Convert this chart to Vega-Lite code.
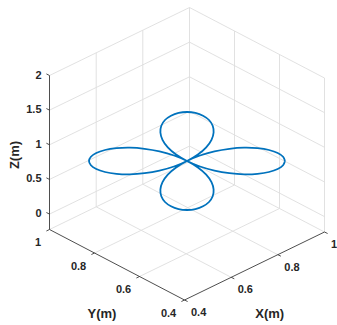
{
  "$schema": "https://vega.github.io/schema/vega-lite/v6.json",
  "width": 337,
  "height": 325,
  "autosize": {"type": "none"},
  "padding": 0,
  "background": "white",
  "config": {"view": {"stroke": null}},
  "datasets": {
    "grid": [
      {"h": 231.2, "v": 277.3, "h2": 96.2, "v2": 206.8},
      {"h": 277.8, "v": 254.7, "h2": 142.8, "v2": 184.2},
      {"h": 324.5, "v": 232, "h2": 189.5, "v2": 161.5},
      {"h": 139.5, "v": 276.5, "h2": 279.5, "v2": 208.5},
      {"h": 94.5, "v": 253, "h2": 234.5, "v2": 185},
      {"h": 49.5, "v": 229.5, "h2": 189.5, "v2": 161.5},
      {"h": 96.2, "v": 206.8, "h2": 96.2, "v2": 52.8},
      {"h": 142.8, "v": 184.2, "h2": 142.8, "v2": 30.2},
      {"h": 189.5, "v": 161.5, "h2": 189.5, "v2": 7.5},
      {"h": 49.5, "v": 214.1, "h2": 189.5, "v2": 146.1},
      {"h": 49.5, "v": 179.45, "h2": 189.5, "v2": 111.45},
      {"h": 49.5, "v": 144.8, "h2": 189.5, "v2": 76.8},
      {"h": 49.5, "v": 110.15, "h2": 189.5, "v2": 42.15},
      {"h": 49.5, "v": 75.5, "h2": 189.5, "v2": 7.5},
      {"h": 234.5, "v": 185, "h2": 234.5, "v2": 31},
      {"h": 279.5, "v": 208.5, "h2": 279.5, "v2": 54.5},
      {"h": 324.5, "v": 232, "h2": 324.5, "v2": 78},
      {"h": 189.5, "v": 146.1, "h2": 324.5, "v2": 216.6},
      {"h": 189.5, "v": 111.45, "h2": 324.5, "v2": 181.95},
      {"h": 189.5, "v": 76.8, "h2": 324.5, "v2": 147.3},
      {"h": 189.5, "v": 42.15, "h2": 324.5, "v2": 112.65},
      {"h": 189.5, "v": 7.5, "h2": 324.5, "v2": 78}
    ],
    "axes": [
      {"h": 49.5, "v": 229.5, "h2": 49.5, "v2": 75.5},
      {"h": 49.5, "v": 229.5, "h2": 184.5, "v2": 300},
      {"h": 184.5, "v": 300, "h2": 324.5, "v2": 232}
    ],
    "ticks": [
      {"h": 49.5, "v": 214.1, "h2": 46.4, "v2": 212.5},
      {"h": 49.5, "v": 179.45, "h2": 46.4, "v2": 177.85},
      {"h": 49.5, "v": 144.8, "h2": 46.4, "v2": 143.2},
      {"h": 49.5, "v": 110.15, "h2": 46.4, "v2": 108.55},
      {"h": 49.5, "v": 75.5, "h2": 46.4, "v2": 73.9},
      {"h": 49.5, "v": 229.5, "h2": 46.4, "v2": 231},
      {"h": 94.5, "v": 253, "h2": 91.4, "v2": 254.5},
      {"h": 139.5, "v": 276.5, "h2": 136.4, "v2": 278},
      {"h": 184.5, "v": 300, "h2": 181.4, "v2": 301.5},
      {"h": 184.5, "v": 300, "h2": 187.6, "v2": 301.5},
      {"h": 231.2, "v": 277.3, "h2": 234.3, "v2": 278.8},
      {"h": 277.8, "v": 254.7, "h2": 280.9, "v2": 256.2},
      {"h": 324.5, "v": 232, "h2": 327.6, "v2": 233.5}
    ],
    "zlab": [
      {"h": 49.5, "v": 214.1, "text": "0"},
      {"h": 49.5, "v": 179.45, "text": "0.5"},
      {"h": 49.5, "v": 144.8, "text": "1"},
      {"h": 49.5, "v": 110.15, "text": "1.5"},
      {"h": 49.5, "v": 75.5, "text": "2"}
    ],
    "ylab": [
      {"h": 49.5, "v": 229.5, "text": "1"},
      {"h": 94.5, "v": 253, "text": "0.8"},
      {"h": 139.5, "v": 276.5, "text": "0.6"},
      {"h": 184.5, "v": 300, "text": "0.4"}
    ],
    "xlab": [
      {"h": 184.5, "v": 300, "text": "0.4"},
      {"h": 231.2, "v": 277.3, "text": "0.6"},
      {"h": 277.8, "v": 254.7, "text": "0.8"},
      {"h": 324.5, "v": 232, "text": "1"}
    ],
    "titles": [
      {"h": 102, "v": 314.3, "text": "Y(m)"},
      {"h": 269.7, "v": 314, "text": "X(m)"}
    ],
    "ztitle": [
      {"h": 14.5, "v": 155, "text": "Z(m)"}
    ],
    "curve": [
      {"i": 0, "h": 285, "v": 161}, {"i": 1, "h": 283.1, "v": 156.8}, {"i": 2, "h": 277.7, "v": 153.0},
      {"i": 3, "h": 269.0, "v": 150.0}, {"i": 4, "h": 257.5, "v": 148.2}, {"i": 5, "h": 244.1, "v": 147.7},
      {"i": 6, "h": 229.4, "v": 148.8}, {"i": 7, "h": 214.5, "v": 151.4}, {"i": 8, "h": 200.0, "v": 155.5},
      {"i": 9, "h": 187, "v": 161}, {"i": 10, "h": 176.1, "v": 167.5}, {"i": 11, "h": 167.8, "v": 174.7},
      {"i": 12, "h": 162.5, "v": 182.2}, {"i": 13, "h": 160.4, "v": 189.5}, {"i": 14, "h": 161.3, "v": 196.3},
      {"i": 15, "h": 165.0, "v": 202.0}, {"i": 16, "h": 171.0, "v": 206.3}, {"i": 17, "h": 178.6, "v": 209.1},
      {"i": 18, "h": 187, "v": 210}, {"i": 19, "h": 195.4, "v": 209.1}, {"i": 20, "h": 203.0, "v": 206.3},
      {"i": 21, "h": 209.0, "v": 202.0}, {"i": 22, "h": 212.7, "v": 196.3}, {"i": 23, "h": 213.6, "v": 189.5},
      {"i": 24, "h": 211.5, "v": 182.2}, {"i": 25, "h": 206.2, "v": 174.7}, {"i": 26, "h": 197.9, "v": 167.5},
      {"i": 27, "h": 187, "v": 161}, {"i": 28, "h": 174.0, "v": 155.5}, {"i": 29, "h": 159.5, "v": 151.4},
      {"i": 30, "h": 144.6, "v": 148.8}, {"i": 31, "h": 129.9, "v": 147.7}, {"i": 32, "h": 116.5, "v": 148.2},
      {"i": 33, "h": 105.0, "v": 150.0}, {"i": 34, "h": 96.3, "v": 153.0}, {"i": 35, "h": 90.9, "v": 156.8},
      {"i": 36, "h": 89, "v": 161}, {"i": 37, "h": 90.9, "v": 165.2}, {"i": 38, "h": 96.3, "v": 169.0},
      {"i": 39, "h": 105.0, "v": 172.0}, {"i": 40, "h": 116.5, "v": 173.8}, {"i": 41, "h": 129.9, "v": 174.3},
      {"i": 42, "h": 144.6, "v": 173.2}, {"i": 43, "h": 159.5, "v": 170.6}, {"i": 44, "h": 174.0, "v": 166.5},
      {"i": 45, "h": 187, "v": 161}, {"i": 46, "h": 197.9, "v": 154.5}, {"i": 47, "h": 206.2, "v": 147.3},
      {"i": 48, "h": 211.5, "v": 139.8}, {"i": 49, "h": 213.6, "v": 132.5}, {"i": 50, "h": 212.7, "v": 125.7},
      {"i": 51, "h": 209.0, "v": 120.0}, {"i": 52, "h": 203.0, "v": 115.7}, {"i": 53, "h": 195.4, "v": 112.9},
      {"i": 54, "h": 187, "v": 112}, {"i": 55, "h": 178.6, "v": 112.9}, {"i": 56, "h": 171.0, "v": 115.7},
      {"i": 57, "h": 165.0, "v": 120.0}, {"i": 58, "h": 161.3, "v": 125.7}, {"i": 59, "h": 160.4, "v": 132.5},
      {"i": 60, "h": 162.5, "v": 139.8}, {"i": 61, "h": 167.8, "v": 147.3}, {"i": 62, "h": 176.1, "v": 154.5},
      {"i": 63, "h": 187, "v": 161}, {"i": 64, "h": 200.0, "v": 166.5}, {"i": 65, "h": 214.5, "v": 170.6},
      {"i": 66, "h": 229.4, "v": 173.2}, {"i": 67, "h": 244.1, "v": 174.3}, {"i": 68, "h": 257.5, "v": 173.8},
      {"i": 69, "h": 269.0, "v": 172.0}, {"i": 70, "h": 277.7, "v": 169.0}, {"i": 71, "h": 283.1, "v": 165.2},
      {"i": 72, "h": 285, "v": 161}
    ]
  },
  "encoding": {
    "x": {"field": "h", "type": "quantitative", "axis": null, "scale": {"domain": [0, 337], "nice": false, "zero": false}},
    "y": {"field": "v", "type": "quantitative", "axis": null, "scale": {"domain": [0, 325], "reverse": true, "nice": false, "zero": false}}
  },
  "layer": [
    {
      "data": {"name": "grid"},
      "mark": {"type": "rule", "stroke": "#dedede", "strokeWidth": 0.9},
      "encoding": {"x2": {"field": "h2"}, "y2": {"field": "v2"}}
    },
    {
      "data": {"name": "axes"},
      "mark": {"type": "rule", "stroke": "#3a3a3a", "strokeWidth": 0.9},
      "encoding": {"x2": {"field": "h2"}, "y2": {"field": "v2"}}
    },
    {
      "data": {"name": "ticks"},
      "mark": {"type": "rule", "stroke": "#3a3a3a", "strokeWidth": 0.9},
      "encoding": {"x2": {"field": "h2"}, "y2": {"field": "v2"}}
    },
    {
      "data": {"name": "curve"},
      "mark": {"type": "line", "stroke": "#0072BD", "strokeWidth": 1.8, "interpolate": "catmull-rom"},
      "encoding": {"order": {"field": "i", "type": "quantitative"}}
    },
    {
      "data": {"name": "zlab"},
      "mark": {"type": "text", "align": "right", "baseline": "middle", "dx": -8, "font": "Liberation Sans", "fontSize": 11, "fontWeight": "bold", "fill": "#262626"},
      "encoding": {"text": {"field": "text"}}
    },
    {
      "data": {"name": "ylab"},
      "mark": {"type": "text", "align": "right", "baseline": "middle", "dx": -8.3, "dy": 13.7, "font": "Liberation Sans", "fontSize": 11, "fontWeight": "bold", "fill": "#262626"},
      "encoding": {"text": {"field": "text"}}
    },
    {
      "data": {"name": "xlab"},
      "mark": {"type": "text", "align": "left", "baseline": "middle", "dx": 6.5, "dy": 13, "font": "Liberation Sans", "fontSize": 11, "fontWeight": "bold", "fill": "#262626"},
      "encoding": {"text": {"field": "text"}}
    },
    {
      "data": {"name": "titles"},
      "mark": {"type": "text", "align": "center", "baseline": "middle", "font": "Liberation Sans", "fontSize": 13, "fontWeight": "bold", "fill": "#262626"},
      "encoding": {"text": {"field": "text"}}
    },
    {
      "data": {"name": "ztitle"},
      "mark": {"type": "text", "align": "center", "baseline": "middle", "angle": 270, "font": "Liberation Sans", "fontSize": 13, "fontWeight": "bold", "fill": "#262626"},
      "encoding": {"text": {"field": "text"}}
    }
  ]
}
